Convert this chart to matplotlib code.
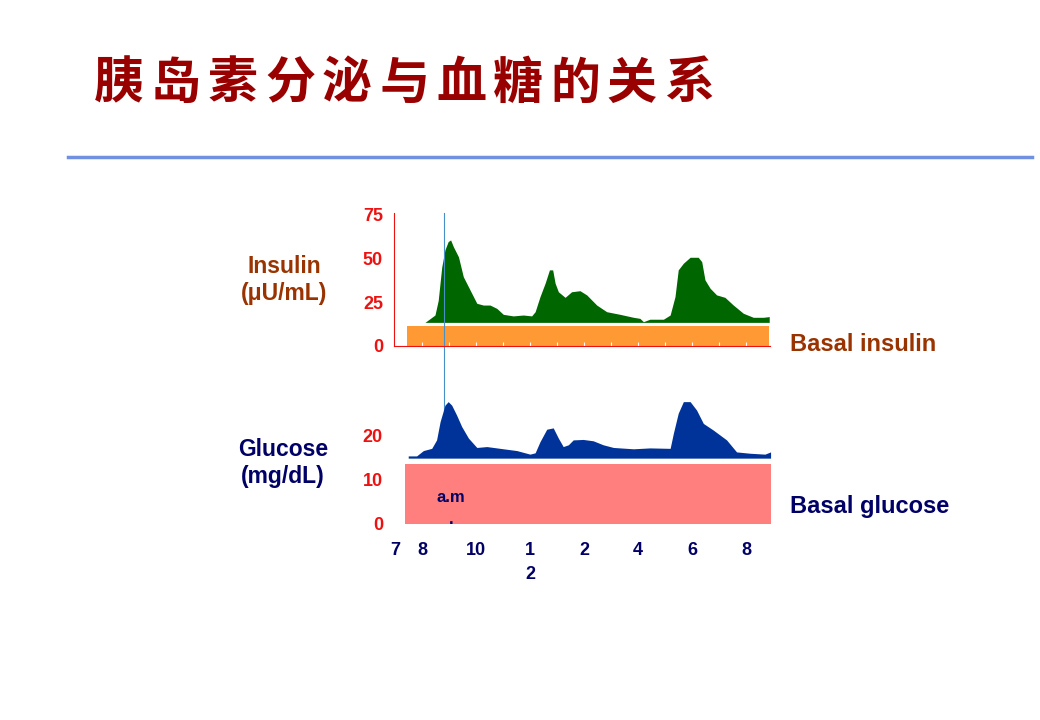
import numpy as np
import matplotlib
matplotlib.use("Agg")
import matplotlib.pyplot as plt

plt.rcParams['font.family'] = ['Liberation Sans', 'DejaVu Sans']

# time in hours (7 = 7 a.m., 21 = 9 p.m.)
ins_t = [8.11, 8.48, 8.6, 8.73, 8.85, 8.97, 9.06, 9.16, 9.35, 9.53, 9.78, 10.03, 10.27, 10.52,
         10.77, 11.01, 11.38, 11.75, 12.06, 12.19, 12.37, 12.56, 12.72, 12.84, 12.93, 13.05,
         13.3, 13.54, 13.85, 14.1, 14.47, 14.84, 15.33, 15.83, 16.07, 16.2, 16.44, 16.94,
         17.19, 17.37, 17.49, 17.68, 17.93, 18.23, 18.36, 18.48, 18.67, 18.91, 19.22, 19.53,
         19.9, 20.27, 20.64, 20.86]
ins_v = [13.5, 17.7, 26, 45, 55, 59.7, 60.6, 56.8, 51, 39.6, 32, 24.4, 23.4, 23.4,
         21.5, 18.1, 17.2, 17.7, 17.2, 19.6, 28.2, 35.9, 43.5, 43.5, 35.9, 31,
         27.8, 31, 31.6, 29.2, 23.4, 19.6, 18.1, 16.4, 15.8, 13.9, 15.3, 15.3,
         17.7, 28.2, 43.5, 47.3, 50.7, 50.7, 48.2, 37.8, 33, 29.2, 27.8, 23.4,
         18.7, 16.4, 16.4, 16.8]
ins_base = 13.5

glu_t = [7.49, 7.8, 8.05, 8.36, 8.54, 8.67, 8.85, 8.97, 9.1, 9.28, 9.47, 9.72, 10.03, 10.4,
         10.89, 11.51, 12.0, 12.19, 12.37, 12.62, 12.86, 13.05, 13.23, 13.42, 13.6, 13.97,
         14.34, 14.71, 15.09, 15.83, 16.44, 17.19, 17.31, 17.49, 17.68, 17.93, 18.17, 18.42,
         18.79, 19.28, 19.65, 20.15, 20.7, 20.91]
glu_v = [15.3, 15.3, 16.5, 17.0, 18.9, 23.0, 26.7, 27.5, 26.7, 24.5, 21.9, 19.3, 17.2, 17.4,
         17.0, 16.5, 15.7, 16.0, 18.5, 21.3, 21.6, 19.3, 17.4, 17.8, 18.9, 19.0,
         18.7, 17.8, 17.2, 16.9, 17.1, 17.0, 20.4, 24.9, 27.5, 27.5, 25.6, 22.6,
         21.1, 18.9, 16.2, 15.9, 15.7, 16.2]
glu_base = 14.8

basal_insulin = 11.5
basal_glucose = 13.5

hour_ticks = [7, 8, 10, 12, 14, 16, 18, 20]
hour_labels = ['7', '8', '10', '1\n2', '2', '4', '6', '8']
ins_yticks = [0, 25, 50, 75]
glu_yticks = [0, 10, 20]
mark_time = 8.8
title = '胰岛素分泌与血糖的关系'

red = '#EE1111'
navy = '#000066'
brown = '#993300'

fig = plt.figure(figsize=(10.4, 7.2), dpi=100)
W, H = 1040, 720
x0, x1 = 394, 773
xlim = (6.963, 21.0)

ax1 = fig.add_axes([x0 / W, (H - 346) / H, (x1 - x0) / W, 133 / H])
ax2 = fig.add_axes([x0 / W, (H - 524) / H, (x1 - x0) / W, 133.5 / H])

# insulin panel
ax1.fill_between([7.45, 20.85], 0, basal_insulin, color='#FF9933', lw=0)
ax1.fill_between(ins_t, ins_base, ins_v, color='#006600', lw=0)
ax1.set_xlim(*xlim)
ax1.set_ylim(0, 76)
for s in ['top', 'right']:
    ax1.spines[s].set_visible(False)
ax1.spines['left'].set_color(red)
ax1.spines['bottom'].set_color(red)
ax1.spines['bottom'].set_bounds(xlim[0], 20.9)
ax1.set_yticks(ins_yticks)
ax1.set_yticklabels([str(v) for v in ins_yticks], color=red, fontsize=13, fontweight='bold')
ax1.tick_params(axis='y', length=0, pad=8)
ax1.set_xticks(range(8, 21))
ax1.tick_params(axis='x', direction='in', length=3, color='white', labelbottom=False)
ax1.set_facecolor('none')
ax1.plot([mark_time, mark_time], [76, -37], color='#4A90C8', lw=0.8, clip_on=False)

# glucose panel
ax2.fill_between([7.37, 20.93], 0, basal_glucose, color='#FF7F7F', lw=0)
ax2.fill_between(glu_t, glu_base, glu_v, color='#003399', lw=0)
ax2.set_xlim(*xlim)
ax2.set_ylim(0, 30)
for s in ax2.spines.values():
    s.set_visible(False)
ax2.set_yticks(glu_yticks)
ax2.set_yticklabels([str(v) for v in glu_yticks], color=red, fontsize=13, fontweight='bold')
ax2.tick_params(axis='y', length=0, pad=8)
ax2.set_xticks(hour_ticks)
ax2.set_xticklabels(hour_labels, color=navy, fontsize=13, fontweight='bold', linespacing=1.55,
                    va='top')
ax2.tick_params(axis='x', length=0, pad=13)
ax2.set_facecolor('none')
ax2.text(9.07, 3.4, 'a.m\n.', color=navy, fontsize=12, fontweight='bold', ha='center',
         va='center', linespacing=1.6, clip_on=True)

# side labels
fig.text(284 / W, 1 - 280 / H, 'Insulin\n(\u03bcU/mL)', color=brown, fontsize=16.5,
         fontweight='bold', ha='center', va='center', linespacing=1.25)
fig.text(283 / W, 1 - 463 / H, 'Glucose\n(mg/dL)', color=navy, fontsize=16.5,
         fontweight='bold', ha='center', va='center', linespacing=1.25)
fig.text(790 / W, 1 - 344 / H, 'Basal insulin', color=brown, fontsize=17,
         fontweight='bold', ha='left', va='center')
fig.text(790 / W, 1 - 507 / H, 'Basal glucose', color=navy, fontsize=17,
         fontweight='bold', ha='left', va='center')

# title, spaced out character by character, and rule
for i, ch in enumerate(title):
    fig.text((119 + 57 * i) / W, 1 - 84 / H, ch, color='#990000', fontsize=36,
             fontweight='heavy', ha='center', va='center',
             family=['Noto Sans CJK SC', 'DejaVu Sans'])
fig.add_artist(plt.Line2D([68 / W, 1032 / W], [1 - 157 / H, 1 - 157 / H],
                          color='#7090E0', lw=2.5))

fig.savefig('out.png', dpi=100)
